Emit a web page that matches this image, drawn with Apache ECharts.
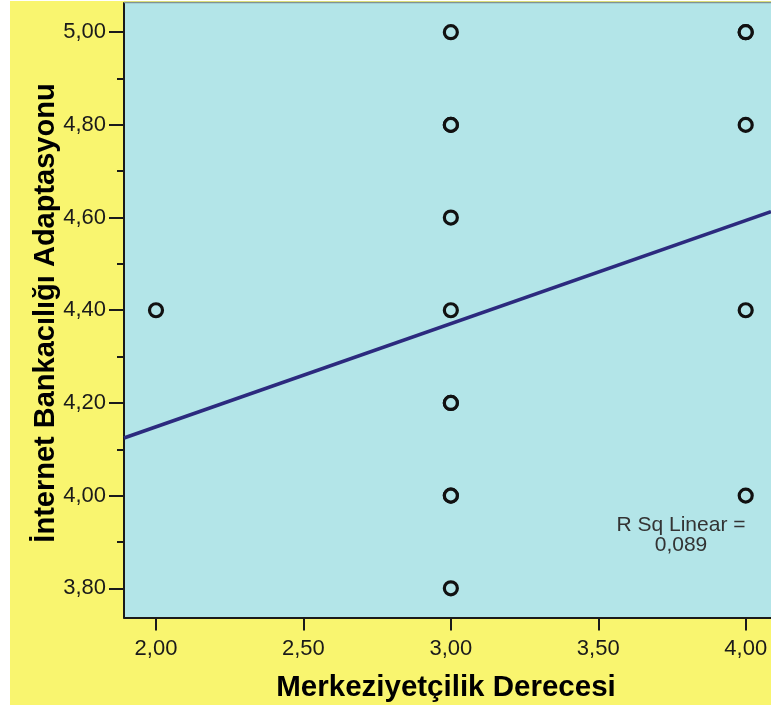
<!DOCTYPE html>
<html>
<head>
<meta charset="utf-8">
<script src="https://cdn.jsdelivr.net/npm/echarts@6/dist/echarts.min.js"></script>
<style>
  html, body { margin: 0; padding: 0; background: #ffffff; }
  #chart { width: 771px; height: 710px; }
</style>
</head>
<body>
<div id="chart"></div>
<script>
// Observations: centralisation degree (x) vs. internet banking adoption (y).
// Repeated values are listed more than once so overlapping rings draw heavier.
const merkeziyetcilik = [2, 3, 3, 3, 3, 3, 3, 3, 3, 3, 3, 4, 4, 4, 4, 4];
const adaptasyon      = [4.4, 5.0, 4.8, 4.8, 4.6, 4.4, 4.2, 4.2, 4.0, 4.0, 3.8, 5.0, 5.0, 4.8, 4.4, 4.0];

// Linear fit line and its R-squared
const fitIntercept = 3.7032;
const fitSlope = 0.2226;
const rSquaredText = '0,089';

// Axis ticks
const xTicks = [2.0, 2.5, 3.0, 3.5, 4.0];
const yTicks = [3.8, 4.0, 4.2, 4.4, 4.6, 4.8, 5.0];
const yMinorTicks = [3.9, 4.1, 4.3, 4.5, 4.7, 4.9];

// Axis extents (the plot runs off the right edge)
const xMin = 1.8915, xMax = 4.0858;
const yMin = 3.737, yMax = 5.063;

const FONT = "'Liberation Sans', Arial, sans-serif";
const fmt = v => Number(v).toFixed(2).replace('.', ',');

const points = merkeziyetcilik.map((x, i) => [x, adaptasyon[i]]);
const fitLine = [xMin, xMax].map(x => [x, fitIntercept + fitSlope * x]);

const chart = echarts.init(document.getElementById('chart'), null, { renderer: 'canvas' });
chart.setOption({
  backgroundColor: '#ffffff',
  animation: false,
  graphic: [
    { type: 'rect', z: -10, silent: true,
      shape: { x: 10, y: 1, width: 761, height: 704 },
      style: { fill: '#f9f56f' } },
    { type: 'line', z: 5, silent: true,
      shape: { x1: 124, y1: 2.5, x2: 771, y2: 2.5 },
      style: { stroke: '#7f9294', lineWidth: 1.5 } },
    { type: 'text', z: 10, x: 46, y: 313, rotation: Math.PI / 2,
      style: { text: 'İnternet Bankacılığı Adaptasyonu', font: 'bold 29px ' + FONT,
               fill: '#000', align: 'center', verticalAlign: 'middle' } },
    { type: 'text', z: 10, x: 446, y: 688,
      style: { text: 'Merkeziyetçilik Derecesi', font: 'bold 29.5px ' + FONT,
               fill: '#000', align: 'center', verticalAlign: 'middle' } },
    { type: 'text', z: 10, x: 681, y: 535,
      style: { text: 'R Sq Linear =\n' + rSquaredText, font: '21px ' + FONT,
               lineHeight: 20, fill: '#333', align: 'center', verticalAlign: 'middle' } }
  ],
  grid: {
    left: 124, top: 3, width: 647, height: 614.5,
    show: true, backgroundColor: '#b3e5e8', borderWidth: 0
  },
  xAxis: {
    type: 'value', min: xMin, max: xMax,
    axisLine: { show: true, lineStyle: { color: '#1a1a1a', width: 2 } },
    axisTick: { show: true, customValues: xTicks, length: 13, lineStyle: { color: '#1a1a1a', width: 2 } },
    axisLabel: { customValues: xTicks, formatter: fmt, margin: 20,
                 fontFamily: FONT, fontSize: 22, color: '#1a1a1a' },
    splitLine: { show: false }
  },
  yAxis: [
    {
      type: 'value', min: yMin, max: yMax,
      axisLine: { show: true, lineStyle: { color: '#1a1a1a', width: 2 } },
      axisTick: { show: true, customValues: yTicks, length: 15, lineStyle: { color: '#1a1a1a', width: 2 } },
      axisLabel: { customValues: yTicks, formatter: fmt, margin: 18,
                   fontFamily: FONT, fontSize: 22, color: '#1a1a1a' },
      splitLine: { show: false }
    },
    {
      type: 'value', min: yMin, max: yMax, position: 'left',
      axisLine: { show: false },
      axisTick: { show: true, customValues: yMinorTicks, length: 7, lineStyle: { color: '#1a1a1a', width: 2 } },
      axisLabel: { show: false },
      splitLine: { show: false }
    }
  ],
  series: [
    {
      type: 'line', data: fitLine, symbol: 'none', clip: true, z: 2,
      lineStyle: { color: '#2c2a7e', width: 3.6 }
    },
    {
      type: 'scatter', data: points, symbol: 'circle', symbolSize: 13, z: 3,
      itemStyle: { color: '#b3e5e8', borderColor: '#111111', borderWidth: 3.2, opacity: 1 }
    }
  ]
});
</script>
</body>
</html>
